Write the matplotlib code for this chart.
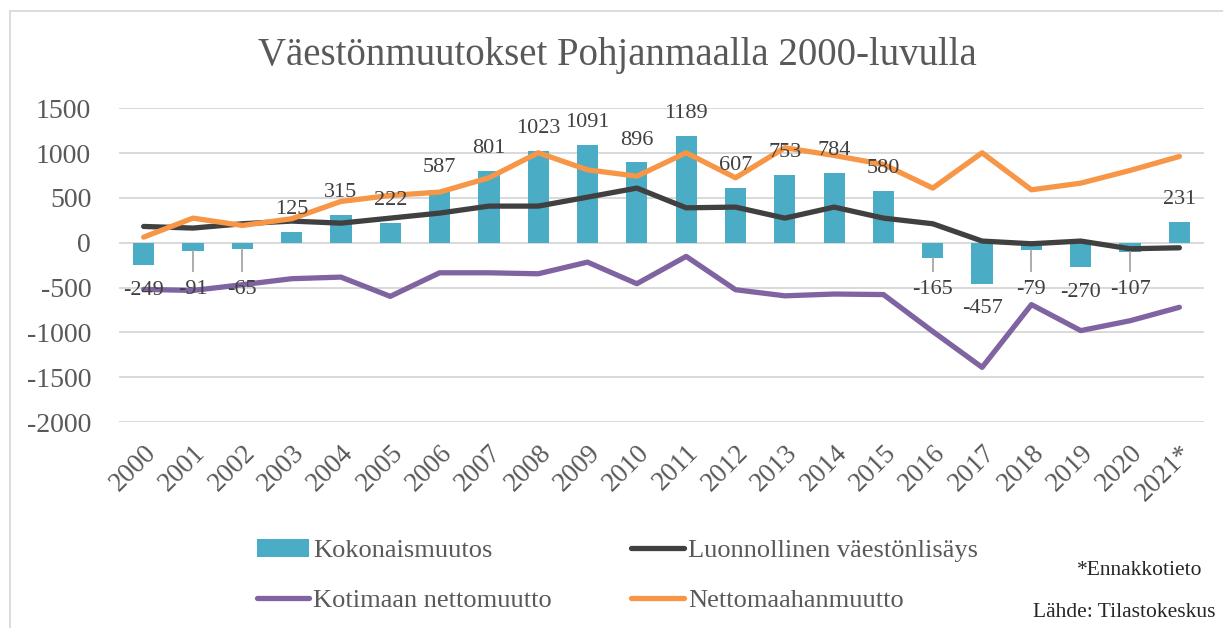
import matplotlib.pyplot as plt
from matplotlib.lines import Line2D

plt.rcParams['font.family'] = ['Liberation Serif', 'DejaVu Serif']
plt.rcParams['axes.unicode_minus'] = False

years = ['2000', '2001', '2002', '2003', '2004', '2005', '2006', '2007', '2008', '2009',
         '2010', '2011', '2012', '2013', '2014', '2015', '2016', '2017', '2018', '2019',
         '2020', '2021*']

# Kokonaismuutos (bars, labelled)
kokonais = [-249, -91, -65, 125, 315, 222, 587, 801, 1023, 1091, 896, 1189, 607, 753, 784, 580,
            -165, -457, -79, -270, -107, 231]
# lines
luonnollinen = [182, 164, 212, 242, 219, 275, 331, 409, 409, 509, 610, 390, 398, 275, 398, 275,
                212, 19, -11, 19, -67, -56]
kotimaan = [-520, -532, -468, -401, -383, -598, -335, -335, -346, -216, -457, -152, -524, -592,
            -572, -578, -990, -1390, -690, -980, -870, -720]
netto = [63, 275, 193, 268, 461, 528, 565, 725, 1004, 814, 743, 1004, 725, 1060, 974, 874,
         610, 1004, 591, 665, 807, 963]

fig = plt.figure(figsize=(12.23, 6.28), dpi=100)
ax = fig.add_axes([0.0973, 0.328, 0.8872, 0.4995])

x = list(range(len(years)))
bars = ax.bar(x, kokonais, width=0.43, color='#4BACC6', zorder=2)
lkw = dict(lw=3.8, solid_capstyle='round', solid_joinstyle='round', zorder=3)
l_luo, = ax.plot(x, luonnollinen, color='#404040', **lkw)
l_kot, = ax.plot(x, kotimaan, color='#8064A2', **lkw)
l_net, = ax.plot(x, netto, color='#F79646', **lkw)

# data labels
for i, v in enumerate(kokonais):
    if v >= 0:
        ax.text(i, v + 250, str(v), ha='center', va='center', fontsize=16,
                color='#404040', zorder=5)
    else:
        ly = min(v - 280, -520)
        ax.text(i, ly, str(v), ha='center', va='center', fontsize=16,
                color='#404040', zorder=5)
        end = ly + 200
        if v - end > 100:
            ax.plot([i, i], [v, end], color='#a6a6a6', lw=1.3, zorder=4)

ax.set_xlim(-0.5, len(years) - 0.5)
ax.set_ylim(-2000, 1500)
ax.set_yticks(range(-2000, 1501, 500))
ax.set_xticks(x)
ax.set_xticklabels(years, rotation=45, ha='right', rotation_mode='anchor')
ax.tick_params(axis='y', length=0, pad=20, labelsize=20, labelcolor='#595959')
ax.tick_params(axis='x', length=0, pad=13, labelsize=19.5, labelcolor='#595959')
ax.yaxis.grid(True, color='#d9d9d9', lw=1.4)
ax.set_axisbelow(True)
for s in ax.spines.values():
    s.set_visible(False)

fig.text(0.505, 0.912, 'Väestönmuutokset Pohjanmaalla 2000-luvulla', ha='center', va='center',
         fontsize=28, color='#595959')

# column-first fill: col 1 = bar, purple; col 2 = black, orange
fig.legend([bars, l_kot, l_luo, l_net],
           ['Kokonaismuutos', 'Kotimaan nettomuutto', 'Luonnollinen väestönlisäys',
            'Nettomaahanmuutto'],
           ncol=2, loc='center left', bbox_to_anchor=(0.199, 0.0836), frameon=False,
           fontsize=19, labelcolor='#595959', handlelength=2.0, handleheight=0.7,
           handletextpad=0.15, columnspacing=3.0, labelspacing=1.0, borderpad=0)

fig.text(0.983, 0.092, '*Ennakkotieto', ha='right', va='center', fontsize=15.5, color='#262626')
fig.text(0.994, 0.025, 'Lähde: Tilastokeskus', ha='right', va='center', fontsize=15.5,
         color='#262626')

# chart area border
fig.add_artist(Line2D([10 / 1223, 10 / 1223], [0, 1 - 11 / 628], transform=fig.transFigure,
                      color='#d9d9d9', lw=1.3))
fig.add_artist(Line2D([10 / 1223, 1], [1 - 11 / 628, 1 - 11 / 628], transform=fig.transFigure,
                      color='#d9d9d9', lw=1.3))

fig.savefig('out.png')
